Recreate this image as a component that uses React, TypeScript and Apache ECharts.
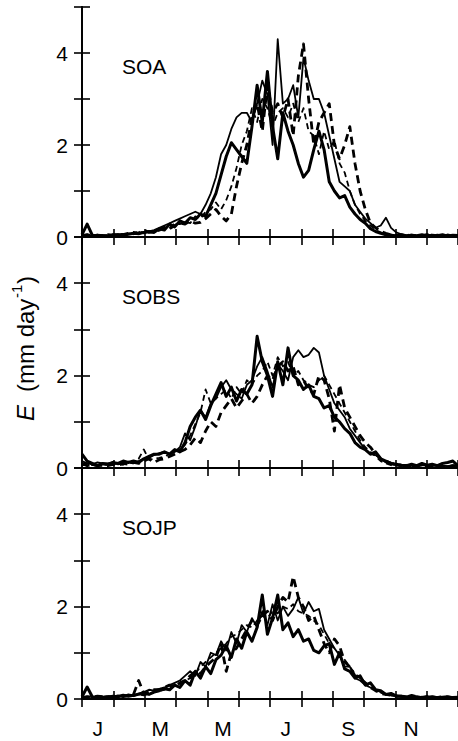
import React, { useEffect, useRef } from "react";
import * as echarts from "echarts";

// day of year (5-day steps)
const days = [0,5,10,15,20,25,30,35,40,45,50,55,60,65,70,75,80,85,90,95,100,105,110,115,120,125,130,135,140,145,150,155,160,165,170,175,180,185,190,195,200,205,210,215,220,225,230,235,240,245,250,255,260,265,270,275,280,285,290,295,300,305,310,315,320,325,330,335,340,345,350,355,360,365];

const monthLetters = ["J","F","M","A","M","J","J","A","S","O","N","D"];
const yTickLabels = ["0", "", "2", "", "4", ""];
const panelNames = ["SOA", "SOBS", "SOJP"];

// SOA
const soaThick = [0.05,0.28,0.04,0.02,0.03, 0.02,0.03,0.05,0.04,0.06, 0.08,0.07,0.1,0.12,0.1, 0.18,0.15,0.28,0.22,0.35, 0.3,0.42,0.38,0.5,0.45, 0.7,0.95,1.35,1.75,2.05, 1.9,1.75,1.6,2.4,3.3, 2.5,3.6,2.4,1.7,2.7, 2.3,2.0,1.6,1.3,1.45, 1.9,2.3,1.9,1.2,1.0, 0.85,0.9,0.65,0.5,0.38, 0.3,0.18,0.12,0.08,0.05, 0.04,0.03,0.05,0.02,0.04, 0.03,0.05,0.02,0.04,0.03, 0.05,0.02,0.04,0.03];
const soaThin = [0.02,0.05,0.03,0.02,0.04, 0.03,0.05,0.06,0.05,0.08, 0.06,0.1,0.08,0.12,0.15, 0.2,0.25,0.3,0.35,0.4, 0.45,0.5,0.55,0.5,0.7, 0.95,1.3,1.8,2.0,2.35, 2.6,2.7,2.7,2.5,2.9, 3.4,3.1,2.0,4.3,2.9, 3.0,3.3,2.6,3.9,3.4, 3.0,3.0,2.7,2.2,1.7, 1.2,1.1,1.0,0.7,0.55, 0.4,0.3,0.2,0.25,0.42, 0.2,0.1,0.06,0.04,0.05, 0.03,0.04,0.05,0.03,0.04, 0.03,0.05,0.04,0.03];
const soaDash = [0.03,0.05,0.02,0.04,0.03, 0.05,0.04,0.06,0.05,0.08, 0.1,0.08,0.15,0.1,0.12, 0.15,0.2,0.18,0.25,0.3, 0.28,0.35,0.3,0.32,0.4, 0.5,0.6,0.45,0.35,0.5, 1.1,1.6,2.0,2.6,2.9, 2.3,3.3,2.7,2.9,2.6, 3.0,2.2,3.5,4.2,3.0, 2.0,2.5,2.7,2.9,2.0, 1.7,2.0,2.4,1.6,1.0, 0.6,0.3,0.2,0.12,0.08, 0.05,0.04,0.03,0.05,0.02, 0.04,0.03,0.05,0.02,0.04, 0.03,0.04,0.02,0.03];
const soaThinDash = [0.02,0.04,0.03,0.05,0.03, 0.04,0.06,0.05,0.07,0.06, 0.08,0.12,0.1,0.14,0.12, 0.18,0.22,0.2,0.3,0.28, 0.35,0.3,0.45,0.4,0.55, 0.6,0.75,0.6,0.8,1.1, 1.5,2.0,2.3,2.8,2.5, 3.0,2.8,2.4,2.7,2.8, 2.6,2.9,2.5,2.8,2.3, 2.2,1.8,2.3,1.9,2.1, 1.6,1.4,1.0,0.7,0.5, 0.35,0.25,0.15,0.1,0.06, 0.05,0.03,0.04,0.02,0.03, 0.02,0.04,0.03,0.05,0.02, 0.03,0.02,0.04,0.03];

// SOBS
const sobsThick = [0.3,0.15,0.1,0.05,0.1, 0.08,0.12,0.1,0.15,0.12, 0.15,0.12,0.2,0.25,0.3, 0.3,0.35,0.3,0.4,0.35, 0.55,0.9,1.1,1.25,1.05, 1.35,1.6,1.85,1.55,1.75, 1.45,1.7,1.6,1.8,2.85, 2.3,2.0,1.55,2.3,1.8, 2.6,2.0,1.9,1.7,1.8, 1.55,1.5,1.3,1.35,1.1, 1.0,0.85,0.75,0.55,0.45, 0.4,0.3,0.35,0.2,0.15, 0.1,0.08,0.06,0.05,0.08, 0.05,0.1,0.06,0.08,0.05, 0.1,0.12,0.15,0.05];
const sobsThin = [0.15,0.1,0.08,0.12,0.1, 0.1,0.12,0.08,0.1,0.14, 0.12,0.15,0.2,0.22,0.28, 0.32,0.35,0.3,0.35,0.45, 0.75,0.6,0.9,1.25,1.1, 1.4,1.5,1.75,1.9,1.7, 1.6,1.5,1.8,1.9,2.2, 2.4,2.1,1.75,2.25,2.1, 1.9,2.4,2.55,2.4,2.45, 2.6,2.5,2.0,1.7,1.4, 1.25,1.1,0.85,0.7,0.55, 0.4,0.3,0.28,0.2,0.12, 0.08,0.06,0.05,0.07,0.05, 0.04,0.06,0.05,0.04,0.06, 0.05,0.04,0.06,0.04];
const sobsDash = [0.1,0.05,0.08,0.05,0.06, 0.05,0.08,0.06,0.1,0.08, 0.12,0.1,0.15,0.2,0.12, 0.18,0.2,0.25,0.3,0.35, 0.4,0.5,0.65,0.55,0.8, 1.0,0.9,1.2,1.35,1.5, 1.3,1.45,1.6,1.4,1.55, 1.8,2.0,1.9,2.2,2.3, 2.1,2.2,1.8,1.9,1.7, 1.6,2.0,1.9,1.5,0.8, 1.8,1.3,1.1,0.9,0.7, 0.55,0.45,0.3,0.2,0.15, 0.1,0.08,0.06,0.05,0.04, 0.05,0.03,0.04,0.05,0.03, 0.04,0.03,0.05,0.04];
const sobsThinDash = [0.05,0.1,0.06,0.05,0.08, 0.06,0.08,0.1,0.07,0.12, 0.1,0.2,0.4,0.18,0.2, 0.22,0.25,0.3,0.35,0.4, 0.5,0.7,0.95,1.2,1.7, 1.4,1.5,1.6,1.7,1.5, 1.75,1.6,1.9,1.8,2.0, 2.1,2.3,2.0,2.4,2.2, 2.3,2.0,2.1,1.9,1.8, 1.75,1.9,2.0,1.8,1.6, 1.4,1.2,1.0,0.8,0.6, 0.45,0.35,0.25,0.15,0.1, 0.06,0.05,0.04,0.05,0.03, 0.04,0.05,0.03,0.04,0.05, 0.03,0.04,0.03,0.05];

// SOJP
const sojpThick = [0.05,0.26,0.05,0.02,0.03, 0.04,0.06,0.05,0.08,0.06, 0.08,0.1,0.12,0.1,0.15, 0.18,0.22,0.2,0.3,0.25, 0.4,0.3,0.6,0.45,0.7, 0.55,0.85,0.95,1.15,0.9, 1.3,1.1,1.45,1.25,1.55, 2.25,1.4,1.75,2.25,1.5, 1.65,1.35,1.5,1.25,1.3, 1.05,1.0,1.15,1.2,0.75, 1.0,0.65,0.6,0.45,0.5, 0.3,0.35,0.2,0.18,0.1, 0.12,0.07,0.06,0.05,0.04, 0.05,0.03,0.04,0.05,0.03, 0.04,0.05,0.03,0.04];
const sojpThin = [0.02,0.05,0.04,0.06,0.05, 0.06,0.05,0.08,0.06,0.1, 0.08,0.12,0.15,0.2,0.18, 0.22,0.25,0.3,0.35,0.4, 0.5,0.6,0.5,0.8,0.7, 1.0,0.95,1.25,1.05,1.45, 1.2,1.6,1.45,1.75,1.55, 1.9,1.6,2.05,1.7,2.0, 1.8,1.95,2.2,1.85,2.1, 1.9,1.95,1.5,1.3,1.1, 0.95,0.7,0.7,0.45,0.4, 0.3,0.25,0.2,0.15,0.1, 0.08,0.06,0.05,0.04,0.05, 0.03,0.04,0.03,0.05,0.03, 0.02,0.04,0.03,0.04];
const sojpDash = [0.03,0.05,0.04,0.06,0.05, 0.05,0.04,0.07,0.06,0.08, 0.1,0.4,0.12,0.15,0.2, 0.2,0.25,0.3,0.28,0.35, 0.4,0.5,0.6,0.55,0.7, 0.8,0.9,1.2,0.6,1.0, 1.1,1.3,1.5,1.7,1.6, 1.8,1.9,1.7,2.0,2.2, 2.1,2.65,2.2,2.0,1.7, 1.8,1.5,1.2,1.0,1.3, 1.15,0.8,0.7,0.5,0.45, 0.35,0.25,0.18,0.12,0.1, 0.08,0.05,0.06,0.04,0.08, 0.05,0.03,0.06,0.04,0.03, 0.05,0.04,0.03,0.02];
const sojpThinDash = [0.02,0.04,0.03,0.05,0.04, 0.06,0.05,0.06,0.04,0.07, 0.06,0.1,0.08,0.12,0.15, 0.18,0.2,0.25,0.3,0.32, 0.4,0.45,0.55,0.7,0.8, 0.9,1.0,1.1,1.2,1.35, 1.4,1.5,1.6,1.55,1.7, 1.8,1.75,1.9,1.85,2.0, 1.95,2.05,1.9,1.85,1.8, 1.7,1.6,1.4,1.2,1.1, 1.0,0.85,0.7,0.55,0.45, 0.35,0.28,0.2,0.14,0.1, 0.08,0.06,0.05,0.04,0.05, 0.03,0.05,0.04,0.03,0.04, 0.03,0.04,0.03,0.02];

const panels = [
  [soaThick, soaThin, soaDash, soaThinDash],
  [sobsThick, sobsThin, sobsDash, sobsThinDash],
  [sojpThick, sojpThin, sojpDash, sojpThinDash],
];

const FONT = "'Liberation Sans', Arial, Helvetica, sans-serif";

export default function App() {
  const ref = useRef<HTMLDivElement>(null);
  useEffect(() => {
    if (!ref.current) return;
    const chart = echarts.init(ref.current, undefined, { renderer: "svg" });
    const gridTops = [7, 237, 468];
    const gridHeights = [230, 231, 231];
    const grids = gridTops.map((t, i) => ({ left: 82, right: -2, top: t, height: gridHeights[i] }));
    const axisLine = { show: true, lineStyle: { color: "#000", width: 1.8 } };
    const tick = { show: true, inside: true, length: 8, lineStyle: { color: "#000", width: 1.6 } };
    const xAxes: any[] = [];
    const yAxes: any[] = [];
    for (let g = 0; g < 3; g++) {
      for (const pos of ["bottom", "top"]) {
        xAxes.push({
          gridIndex: g, type: "value", position: pos, min: 0, max: 365, interval: 365 / 12,
          axisLine, axisTick: tick, axisLabel: { show: false }, splitLine: { show: false },
        });
      }
      for (const pos of ["left", "right"]) {
        yAxes.push({
          gridIndex: g, type: "value", position: pos, min: 0, max: 5, interval: 1,
          axisLine, axisTick: tick, splitLine: { show: false },
          axisLabel: pos === "left" ? {
            show: true, fontSize: 21, color: "#000", fontFamily: FONT, margin: 14,
            formatter: (v: number) => yTickLabels[Math.round(v)] ?? "",
          } : { show: false },
        });
      }
    }
    xAxes.push({
      gridIndex: 2, type: "category", position: "bottom", data: monthLetters, boundaryGap: true,
      axisLine: { show: false }, axisTick: { show: false }, splitLine: { show: false },
      axisLabel: { interval: 1, fontSize: 21, color: "#000", fontFamily: FONT, margin: 19 },
    });
    const styles = [
      { width: 3, type: "solid" },
      { width: 1.8, type: "solid" },
      { width: 2.8, type: [8, 5] },
      { width: 1.8, type: [6, 4] },
    ];
    const series: any[] = [];
    panels.forEach((set, g) => {
      set.forEach((arr, k) => {
        series.push({
          type: "line", xAxisIndex: 2 * g, yAxisIndex: 2 * g, showSymbol: false, symbol: "none",
          data: days.map((d, j) => [d, arr[j]]),
          lineStyle: { color: "#000", width: styles[k].width, type: styles[k].type, join: "round" },
          z: 2,
        });
      });
    });
    const labelYs = [68, 298, 529];
    const graphic: any[] = panelNames.map((n, i) => ({
      type: "text", left: 122, top: labelYs[i] - 12,
      style: { text: n, fontSize: 21, fill: "#000", fontFamily: FONT },
    }));
    const tStyle = { fill: "#000", fontFamily: FONT, verticalAlign: "middle", align: "left" };
    graphic.push({
      type: "group", x: 25, y: 341, rotation: Math.PI / 2,
      children: [
        { type: "text", x: -80, y: 0, style: { ...tStyle, text: "E", fontSize: 24, fontStyle: "italic" } },
        { type: "text", x: -51, y: 0, style: { ...tStyle, text: "(mm day", fontSize: 24 } },
        { type: "text", x: 43, y: -9, style: { ...tStyle, text: "-1", fontSize: 15 } },
        { type: "text", x: 57, y: 0, style: { ...tStyle, text: ")", fontSize: 24 } },
      ],
    });
    chart.setOption({
      animation: false,
      backgroundColor: "#fff",
      grid: grids,
      xAxis: xAxes,
      yAxis: yAxes,
      series,
      graphic,
    });
    return () => chart.dispose();
  }, []);
  return <div ref={ref} style={{ position: "absolute", left: 0, top: 0, width: 458, height: 741 }} />;
}
